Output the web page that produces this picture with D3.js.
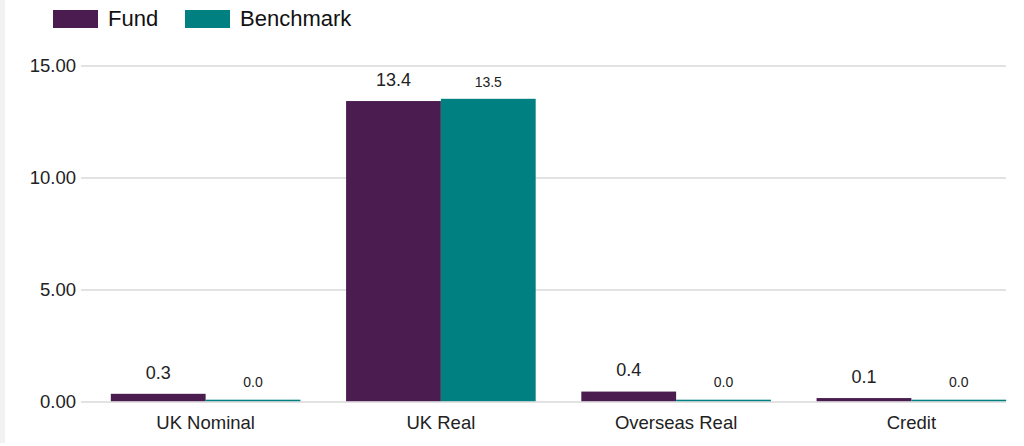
<!DOCTYPE html>
<html>
<head>
<meta charset="utf-8">
<script src="https://cdn.jsdelivr.net/npm/d3@7"></script>
<style>
  body { margin: 0; background: #fff; }
  svg { display: block; font-family: "Liberation Sans", Arial, sans-serif; }
</style>
</head>
<body>
<script>
// Chart data
const categories = ["UK Nominal", "UK Real", "Overseas Real", "Credit"];
const fund = [0.33, 13.4, 0.43, 0.14];
const benchmark = [0.0, 13.5, 0.0, 0.0];
const yTicks = [0, 5, 10, 15];
const seriesNames = ["Fund", "Benchmark"];
const colors = ["#4b1c50", "#008080"];

const width = 1024, height = 446;

const svg = d3.select("body").append("svg")
  .attr("width", width)
  .attr("height", height);

// light strip on the left edge
svg.append("rect")
  .attr("x", 0).attr("y", 0)
  .attr("width", 5).attr("height", 443)
  .attr("fill", "#f2f2f2");

// Scales
const x = d3.scaleBand()
  .domain(categories)
  .range([88, 1029])
  .paddingInner(0.194)
  .paddingOuter(0.097);

const xs = d3.scaleBand()
  .domain(seriesNames)
  .range([0, x.bandwidth()]);

const y = d3.scaleLinear()
  .domain([0, 15])
  .range([402, 66]);

// Gridlines and y labels
const grid = svg.append("g");
grid.selectAll("line")
  .data(yTicks)
  .join("line")
  .attr("x1", 81).attr("x2", 1006)
  .attr("y1", d => y(d)).attr("y2", d => y(d))
  .attr("stroke", "#d9d9d9")
  .attr("stroke-width", 1.5);

grid.selectAll("text")
  .data(yTicks)
  .join("text")
  .attr("x", 76)
  .attr("y", d => y(d))
  .attr("dy", "0.35em")
  .attr("text-anchor", "end")
  .attr("font-size", 18.5)
  .attr("fill", "#222")
  .text(d => d3.format(".2f")(d));

// Bars
const rows = categories.map((c, i) => ({
  cat: c,
  vals: [
    { s: "Fund", v: fund[i], k: 0 },
    { s: "Benchmark", v: benchmark[i], k: 1 }
  ]
}));

const groups = svg.append("g").selectAll("g")
  .data(rows)
  .join("g")
  .attr("transform", d => `translate(${x(d.cat)},0)`);

// zero values still show as a thin line just above the baseline
groups.selectAll("rect")
  .data(d => d.vals)
  .join("rect")
  .attr("x", d => xs(d.s))
  .attr("width", xs.bandwidth())
  .attr("y", d => Math.min(y(d.v), y(0) - 1.5) - 0.8)
  .attr("height", d => Math.max(y(0) - y(d.v), 1.5))
  .attr("fill", d => colors[d.k]);

// Value labels
groups.selectAll("text")
  .data(d => d.vals)
  .join("text")
  .attr("x", d => xs(d.s) + xs.bandwidth() / 2)
  .attr("y", d => Math.min(y(d.v), y(0) - 2) - (d.k === 0 ? 16 : 13))
  .attr("text-anchor", "middle")
  .attr("font-size", d => d.k === 0 ? 18 : 14)
  .attr("fill", "#222")
  .text(d => d.v.toFixed(1));

// Category labels
svg.append("g").selectAll("text")
  .data(categories)
  .join("text")
  .attr("x", d => x(d) + x.bandwidth() / 2)
  .attr("y", 429)
  .attr("text-anchor", "middle")
  .attr("font-size", 18.5)
  .attr("fill", "#222")
  .text(d => d);

// Legend
const legendX = [53, 185];
const legend = svg.append("g").selectAll("g")
  .data(seriesNames)
  .join("g")
  .attr("transform", (d, i) => `translate(${legendX[i]},10)`);

legend.append("rect")
  .attr("width", 45).attr("height", 18)
  .attr("fill", (d, i) => colors[i]);

legend.append("text")
  .attr("x", 55)
  .attr("y", 16)
  .attr("font-size", 22)
  .attr("fill", "#111")
  .text(d => d);
</script>
</body>
</html>
